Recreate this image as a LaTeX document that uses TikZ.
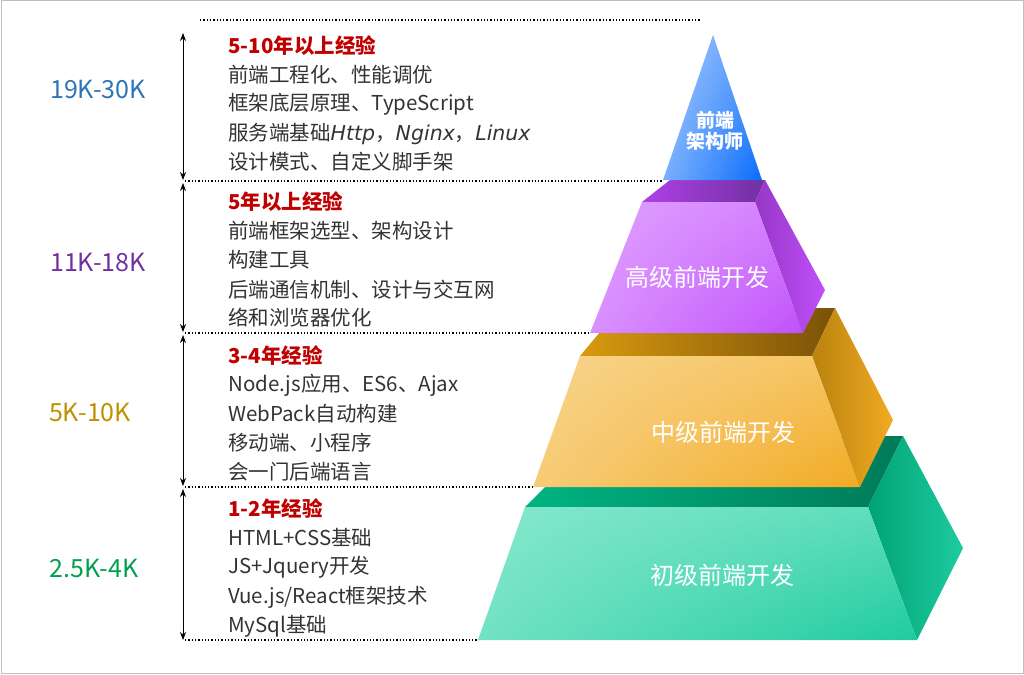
\documentclass[tikz,border=0pt]{standalone}
\usepackage{fontspec}
\setmainfont{Noto Sans CJK SC}
\newfontfamily\latinit{DejaVu Sans}
\usetikzlibrary{arrows.meta,shadings}
\definecolor{hred}{HTML}{C00000}
\definecolor{sblue}{HTML}{2E75B6}
\definecolor{spurp}{HTML}{7030A0}
\definecolor{sgold}{HTML}{BF9000}
\definecolor{sgreen}{HTML}{00A050}
\definecolor{g1}{HTML}{86E8CC}\definecolor{g2}{HTML}{1ECBA0}\definecolor{g3}{HTML}{00B482}\definecolor{g4}{HTML}{007A58}
\definecolor{o1}{HTML}{F8D48C}\definecolor{o2}{HTML}{F2AA22}\definecolor{o3}{HTML}{D99A10}\definecolor{o4}{HTML}{7A5208}
\definecolor{p1}{HTML}{E0A0FF}\definecolor{p2}{HTML}{C050FA}\definecolor{p3}{HTML}{B040E8}\definecolor{p4}{HTML}{7030A0}
\definecolor{b1}{HTML}{A8CCFF}\definecolor{b2}{HTML}{0A6CFA}
\tikzset{
 ln/.style={anchor=west,inner sep=0pt,font=\fontsize{20.5}{20.5}\selectfont,text=black!80},
 hd/.style={anchor=west,inner sep=0pt,font=\fontsize{20.5}{20.5}\selectfont\bfseries,text=hred},
 sal/.style={inner sep=0pt,font=\fontsize{25}{25}\selectfont},
 lab/.style={inner sep=0pt,text=white,font=\fontsize{24}{26}\selectfont,align=center},
 dots/.style={dotted,line width=1.3pt},
 arr/.style={{Stealth[length=8pt,width=6pt]}-{Stealth[length=8pt,width=6pt]},line width=0.8pt}
}
\begin{document}
\begin{tikzpicture}[x=1pt,y=-1pt]
\useasboundingbox (0,0) rectangle (1024,674);
\draw[black!25,line width=1pt] (1,1) rectangle (1023,673);
% green
\shade[left color=g3,right color=g4] (525,507)--(868,507)--(903,436)--(596,436)--cycle;
\shade[left color=g3!90!black,right color=g2] (868,507)--(903,436)--(963,548)--(917,640)--cycle;
\shade[upper left=g1,lower right=g2,upper right=g1!60!g2,lower left=g1!80!g2] (525,507)--(868,507)--(917,640)--(478,640)--cycle;
% orange
\shade[left color=o3,right color=o4] (580,356)--(812,356)--(835,308)--(620,308)--cycle;
\shade[left color=o3!85!black,right color=o2] (812,356)--(835,308)--(893,420)--(860,487)--cycle;
\shade[upper left=o1,lower right=o2,upper right=o1!60!o2,lower left=o1!80!o2] (580,356)--(812,356)--(860,487)--(533,487)--cycle;
% purple
\shade[left color=p3,right color=p4] (642,202)--(755,202)--(765,180)--(670,180)--cycle;
\shade[left color=p3!85!black,right color=p2] (755,202)--(765,180)--(825,290)--(803,333)--cycle;
\shade[upper left=p1,lower right=p2,upper right=p1!60!p2,lower left=p1!80!p2] (642,202)--(755,202)--(803,333)--(590,333)--cycle;
% top
\shade[upper left=b1,lower right=b2,upper right=b1!50!b2,lower left=b1!70!b2] (713,35)--(762,180)--(663,180)--cycle;
\node[lab,font=\fontsize{19}{21}\selectfont\bfseries] (l4) at (715,131) {前端\\架构师};
\node[lab] (l3) at (697,277) {高级前端开发};
\node[lab] (l2) at (723,432) {中级前端开发};
\node[lab] (l1) at (722,575) {初级前端开发};
% dotted lines
\coordinate (d0a) at (200,20); \coordinate (d0b) at (700,20);
\coordinate (d1a) at (185,181); \coordinate (d1b) at (663,181);
\coordinate (d2a) at (185,333); \coordinate (d2b) at (590,333);
\coordinate (d3a) at (185,487); \coordinate (d3b) at (533,487);
\coordinate (d4a) at (185,640); \coordinate (d4b) at (478,640);
\draw[dots] (d0a)--(d0b); \draw[dots] (d1a)--(d1b); \draw[dots] (d2a)--(d2b); \draw[dots] (d3a)--(d3b); \draw[dots] (d4a)--(d4b);
\coordinate (a0) at (183,33); \coordinate (a1) at (183,180); \coordinate (a1b) at (183,183);
\coordinate (a2) at (183,332); \coordinate (a2b) at (183,335);
\coordinate (a3) at (183,486); \coordinate (a3b) at (183,489);
\coordinate (a4) at (183,640);
\draw[arr] (a0)--(a1); \draw[arr] (a1b)--(a2); \draw[arr] (a2b)--(a3); \draw[arr] (a3b)--(a4);
% salaries
\node[sal,text=sblue] (s4) at (98,90) {19K-30K};
\node[sal,text=spurp] (s3) at (98,262) {11K-18K};
\node[sal,text=sgold] (s2) at (90,412) {5K-10K};
\node[sal,text=sgreen] (s1) at (94,568) {2.5K-4K};
% text blocks
\node[hd] (h4) at (228,46) {5-10年以上经验};
\node[ln] (t41) at (228,75) {前端工程化、性能调优};
\node[ln] (t42) at (228,104) {框架底层原理、TypeScript};
\node[ln] (t43) at (228,134) {服务端基础{\latinit\itshape Http}，{\latinit\itshape Nginx}，{\latinit\itshape Linux}};
\node[ln] (t44) at (228,162) {设计模式、自定义脚手架};
\node[hd] (h3) at (228,202) {5年以上经验};
\node[ln] (t31) at (228,231) {前端框架选型、架构设计};
\node[ln] (t32) at (228,260) {构建工具};
\node[ln] (t33) at (228,290) {后端通信机制、设计与交互网};
\node[ln] (t34) at (228,318) {络和浏览器优化};
\node[hd] (h2) at (228,356) {3-4年经验};
\node[ln] (t21) at (228,385) {Node.js应用、ES6、Ajax};
\node[ln] (t22) at (228,414) {WebPack自动构建};
\node[ln] (t23) at (228,443) {移动端、小程序};
\node[ln] (t24) at (228,472) {会一门后端语言};
\node[hd] (h1) at (228,509) {1-2年经验};
\node[ln] (t11) at (228,538) {HTML+CSS基础};
\node[ln] (t12) at (228,567) {JS+Jquery开发};
\node[ln] (t13) at (228,597) {Vue.js/React框架技术};
\node[ln] (t14) at (228,626) {MySql基础};
\end{tikzpicture}
\end{document}
